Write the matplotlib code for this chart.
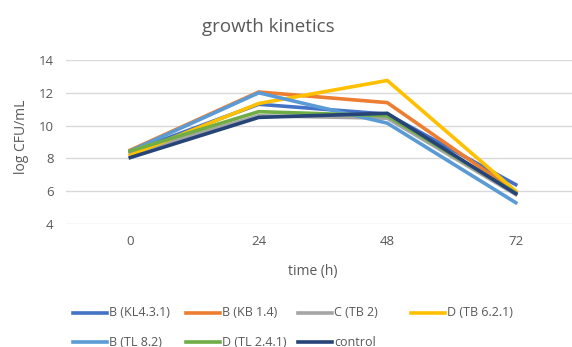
import matplotlib.pyplot as plt
from matplotlib.lines import Line2D

plt.rcParams['font.family'] = ['Open Sans', 'DejaVu Sans']

# sampling times (h) and log CFU/mL per isolate
times = ['0', '24', '48', '72']
names = ['B (KL4.3.1)', 'B (KB 1.4)', 'C (TB 2)', 'D (TB 6.2.1)',
         'B (TL 8.2)', 'D (TL 2.4.1)', 'control']
kl431 = [8.4, 11.3, 10.7, 6.4]
kb14 = [8.5, 12.05, 11.4, 5.95]
tb2 = [8.3, 10.6, 10.45, 5.8]
tb621 = [8.2, 11.35, 12.75, 6.0]
tl82 = [8.45, 12.0, 10.15, 5.3]
tl241 = [8.45, 10.85, 10.6, 5.9]
control = [8.05, 10.5, 10.75, 5.85]
series = [kl431, kb14, tb2, tb621, tl82, tl241, control]
colors = ['#4472C4', '#ED7D31', '#A5A5A5', '#FFC000',
          '#5B9BD5', '#70AD47', '#264478']

W, H = 572, 347
fig = plt.figure(figsize=(W / 100, H / 100), dpi=100)
# plot area runs a little past the right edge of the image
ax = fig.add_axes([66 / W, 1 - 224 / H, 514 / W, 164 / H])

xs = range(len(times))
for vals, c in zip(series, colors):
    ax.plot(xs, vals, color=c, lw=2.6, solid_joinstyle='miter', zorder=3)

ax.set_xlim(-0.5, 3.5)
ax.set_ylim(4, 14)
ax.set_yticks([4, 6, 8, 10, 12, 14])
ax.set_xticks(list(xs))
ax.set_xticklabels(times)
ax.grid(axis='y', color='#D9D9D9', lw=1)
ax.set_axisbelow(True)
for s in ax.spines.values():
    s.set_visible(False)
ax.tick_params(length=0, colors='#595959', labelsize=9.5)
ax.tick_params(axis='x', pad=8)
ax.tick_params(axis='y', pad=9)

fig.text(268 / W, 1 - 27 / H, 'growth kinetics', ha='center', va='center',
         fontsize=13.5, color='#595959')
fig.text(313 / W, 1 - 271 / H, 'time (h)', ha='center', va='center',
         fontsize=10, color='#595959')
fig.text(22 / W, 1 - 137 / H, 'log CFU/mL', ha='center', va='center',
         rotation=90, fontsize=10, color='#595959')

# legend laid out in a 4-column grid under the plot
for i, (name, c) in enumerate(zip(names, colors)):
    col, row = i % 4, i // 4
    x0 = 73 + col * 112.7
    y0 = 313 + row * 29
    fig.add_artist(Line2D([x0 / W, (x0 + 34) / W], [1 - y0 / H, 1 - y0 / H],
                          color=c, lw=2.6, transform=fig.transFigure))
    fig.text((x0 + 36) / W, 1 - y0 / H, name, ha='left', va='center',
             fontsize=9, color='#595959')

fig.savefig('out.png', dpi=100)
